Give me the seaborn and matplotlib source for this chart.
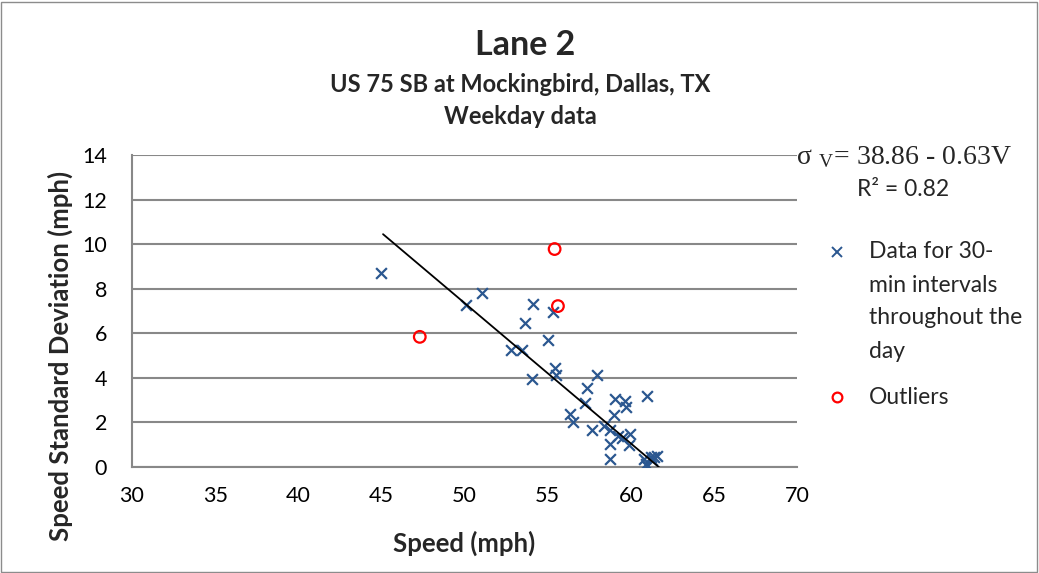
import matplotlib
matplotlib.use("Agg")
import matplotlib.pyplot as plt
import seaborn as sns
import numpy as np
import pandas as pd
from matplotlib.patches import Rectangle
from matplotlib.lines import Line2D

# ---- data ----
speed = [45.0, 50.11, 51.05, 52.82, 53.46, 53.66, 54.08, 54.12, 55.02, 55.32,
         55.42, 55.52, 56.35, 56.52, 57.22, 57.36, 57.68, 57.96, 58.38, 58.73,
         58.73, 58.73, 58.97, 59.03, 59.23, 59.49, 59.63, 59.73, 59.89, 59.93,
         60.97, 60.8, 61.0, 60.9, 61.2, 61.4, 61.6, 61.3]
sd = [8.72, 7.26, 7.79, 5.24, 5.27, 6.47, 3.93, 7.31, 5.69, 6.96,
      4.42, 4.15, 2.37, 2.03, 2.89, 3.55, 1.68, 4.15, 1.83, 1.68,
      1.05, 0.38, 2.32, 3.03, 1.38, 1.32, 2.97, 2.67, 0.97, 1.50,
      3.19, 0.35, 0.05, 0.15, 0.45, 0.45, 0.50, 0.30]
out_speed = [47.31, 55.62, 55.42]
out_sd = [5.84, 7.22, 9.78]
intercept = 38.86
slope = -0.63
trend_x = [45.1, 61.8]
x_ticks = [30, 35, 40, 45, 50, 55, 60, 65, 70]
y_ticks = [0, 2, 4, 6, 8, 10, 12, 14]

sns.set_theme(style="white")
plt.rcParams['font.family'] = ['Lato', 'DejaVu Sans']
plt.rcParams['mathtext.fontset'] = 'stix'

W, H = 1039, 573
fig = plt.figure(figsize=(W / 100, H / 100), dpi=100)
fig.patch.set_facecolor('white')
fig.patches.append(Rectangle((1 / W, 1 / H), (W - 3) / W, (H - 3) / H, transform=fig.transFigure,
                             fill=False, edgecolor='#8c8c8c', linewidth=1.0))

L, R, T, B = 132, 797, 155, 467
ax = fig.add_axes([L / W, (H - B) / H, (R - L) / W, (B - T) / H])

blue = '#2B5790'
df = pd.DataFrame({'speed': speed, 'sd': sd})
dfo = pd.DataFrame({'speed': out_speed, 'sd': out_sd})
sns.scatterplot(data=df, x='speed', y='sd', marker='x', color=blue, s=60, linewidth=1.6, ax=ax, zorder=3)
sns.scatterplot(data=dfo, x='speed', y='sd', marker='o', facecolor='none', edgecolor='#FF0000',
                s=70, linewidth=1.6, ax=ax, zorder=3)

xl = np.array(trend_x)
ax.plot(xl, intercept + slope * xl, color='black', linewidth=1.3, zorder=4)

ax.set_xlim(30, 70)
ax.set_ylim(0, 14)
ax.set_xticks(x_ticks)
ax.set_yticks(y_ticks)
ax.set_xticklabels([str(v) for v in x_ticks])
ax.set_yticklabels([str(v) for v in y_ticks])
ax.tick_params(axis='both', length=0, labelsize=15.5, colors='black')
ax.tick_params(axis='y', pad=18)
ax.tick_params(axis='x', pad=14)
ax.yaxis.grid(True, color='#888888', linewidth=1.5)
ax.xaxis.grid(False)
for s in ['top', 'right']:
    ax.spines[s].set_visible(False)
for s in ['left', 'bottom']:
    ax.spines[s].set_color('#888888')
    ax.spines[s].set_linewidth(1.5)
ax.set_xlabel('')
ax.set_ylabel('')
ax.set_facecolor('white')

fig.text(525 / W, 1 - 45 / H, 'Lane 2', ha='center', va='center', fontsize=24.5, fontweight='bold')
fig.text(520 / W, 1 - 85 / H, 'US 75 SB at Mockingbird, Dallas, TX', ha='center', va='center',
         fontsize=17, fontweight='bold')
fig.text(520 / W, 1 - 117 / H, 'Weekday data', ha='center', va='center', fontsize=17, fontweight='bold')
fig.text(464 / W, 1 - 543 / H, 'Speed (mph)', ha='center', va='center', fontsize=18.5, fontweight='bold')
fig.text(60 / W, 1 - 356 / H, 'Speed Standard Deviation (mph)', ha='center', va='center', rotation=90,
         fontsize=18.5, fontweight='bold')

fig.text(904 / W, 1 - 158 / H, r'$\mathregular{\sigma}$ $_\mathregular{V}$= 38.86 - 0.63V', ha='center',
         va='center', fontsize=20, family=['Liberation Serif', 'DejaVu Serif'])
fig.text(903 / W, 1 - 190 / H, 'R² = 0.82', ha='center', va='center', fontsize=16.5)

# legend
fig.add_artist(Line2D([837 / W], [1 - 252 / H], marker='x', color=blue, markersize=7, mew=1.4,
                      linestyle='none', transform=fig.transFigure))
fig.add_artist(Line2D([837 / W], [1 - 397 / H], marker='o', markerfacecolor='none', markeredgecolor='#FF0000',
                      markersize=7, mew=1.6, linestyle='none', transform=fig.transFigure))
for i, line in enumerate(['Data for 30-', 'min intervals', 'throughout the', 'day']):
    fig.text(869 / W, 1 - (252 + i * 33) / H, line, ha='left', va='center', fontsize=16.5)
fig.text(869 / W, 1 - 397 / H, 'Outliers', ha='left', va='center', fontsize=16.5)

fig.savefig('out.png', dpi=100)
